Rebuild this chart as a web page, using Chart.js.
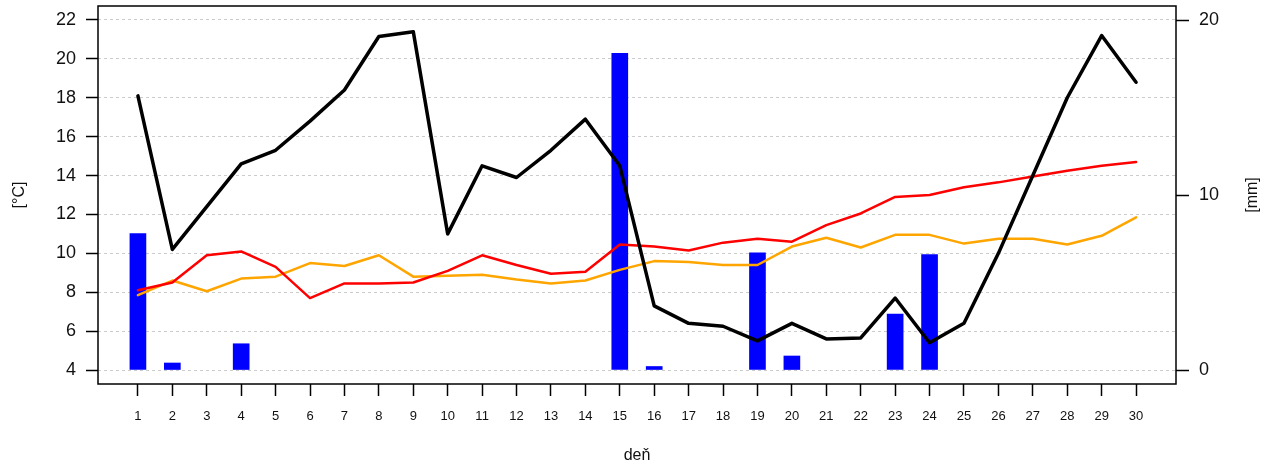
<!DOCTYPE html>
<html>
<head>
<meta charset="utf-8">
<script src="https://cdn.jsdelivr.net/npm/chart.js@4.4.1/dist/chart.umd.min.js"></script>
<style>
  html, body { margin: 0; padding: 0; background: #fff; }
  #wrap { width: 1273px; height: 469px; }
</style>
</head>
<body>
<div id="wrap"><canvas id="meteoChart" width="1273" height="469"></canvas></div>
<script>
// daily values for the month
const days = Array.from({ length: 30 }, (_, i) => i + 1);
const tempBlack = [18.1, 10.2, 12.4, 14.6, 15.3, 16.8, 18.4, 21.15, 21.4, 11.0,
  14.5, 13.9, 15.3, 16.9, 14.5, 7.3, 6.4, 6.25, 5.5, 6.4,
  5.6, 5.65, 7.7, 5.4, 6.4, 10.0, 14.0, 18.0, 21.2, 18.8];
const tempRed = [8.1, 8.5, 9.9, 10.1, 9.3, 7.7, 8.45, 8.45, 8.5, 9.1,
  9.9, 9.4, 8.95, 9.05, 10.45, 10.35, 10.15, 10.55, 10.75, 10.6,
  11.45, 12.05, 12.9, 13.0, 13.4, 13.65, 13.95, 14.25, 14.5, 14.7];
const tempOrange = [7.85, 8.6, 8.05, 8.7, 8.8, 9.5, 9.35, 9.9, 8.8, 8.85,
  8.9, 8.65, 8.45, 8.6, 9.15, 9.6, 9.55, 9.4, 9.4, 10.35,
  10.8, 10.3, 10.95, 10.95, 10.5, 10.75, 10.75, 10.45, 10.9, 11.85];
const rainMm = [7.8, 0.4, 0, 1.5, 0, 0, 0, 0, 0, 0,
  0, 0, 0, 0, 18.1, 0.2, 0, 0, 6.7, 0.8,
  0, 0, 3.2, 6.6, 0, 0, 0, 0, 0, 0];
const tempTicks = [4, 6, 8, 10, 12, 14, 16, 18, 20, 22];
const rainTicks = [0, 10, 20];

const FONT = "'Liberation Sans', Arial, sans-serif";
const toPoints = (vals) => days.map((d, i) => ({ x: d, y: vals[i] }));

// R-style frame plus the right-hand label (reads bottom to top)
const framePlugin = {
  id: 'frame',
  afterDraw(chart) {
    const { ctx, chartArea: a } = chart;
    ctx.save();
    ctx.strokeStyle = '#000';
    ctx.lineWidth = 1.5;
    ctx.strokeRect(a.left, a.top, a.right - a.left, a.bottom - a.top);
    ctx.translate(1253, 195);
    ctx.rotate(-Math.PI / 2);
    ctx.fillStyle = '#111';
    ctx.font = '16px ' + FONT;
    ctx.textAlign = 'center';
    ctx.textBaseline = 'middle';
    ctx.fillText('[mm]', 0, 0);
    ctx.restore();
  },
};

const noPad = (s) => {
  s.paddingTop = 0;
  s.paddingBottom = 0;
  s.paddingLeft = 0;
  s.paddingRight = 0;
};

const lineStyle = {
  type: 'line',
  pointRadius: 0,
  tension: 0,
  borderJoinStyle: 'round',
  borderCapStyle: 'round',
  yAxisID: 'y',
};

new Chart(document.getElementById('meteoChart'), {
  data: {
    datasets: [
      { ...lineStyle, data: toPoints(tempBlack), borderColor: '#000000', borderWidth: 3.5, order: 1 },
      { ...lineStyle, data: toPoints(tempRed), borderColor: '#ff0000', borderWidth: 2.5, order: 2 },
      { ...lineStyle, data: toPoints(tempOrange), borderColor: '#ffa500', borderWidth: 2.5, order: 3 },
      {
        type: 'bar',
        // days without rain get no bar at all
        data: toPoints(rainMm).filter((p) => p.y > 0),
        backgroundColor: '#0000ff',
        borderWidth: 0,
        barThickness: 16,
        yAxisID: 'y1',
        order: 10,
      },
    ],
  },
  options: {
    responsive: false,
    animation: false,
    layout: { padding: { top: 6, left: 0, right: 0, bottom: 0 } },
    plugins: { legend: { display: false }, tooltip: { enabled: false } },
    scales: {
      x: {
        type: 'linear',
        offset: false,
        min: -0.16,
        max: 31.16,
        afterBuildTicks: (s) => { s.ticks = days.map((v) => ({ value: v })); },
        afterFit: (s) => { noPad(s); s.height = 85; },
        ticks: {
          autoSkip: false,
          maxRotation: 0,
          padding: 13,
          color: '#111',
          font: { family: FONT, size: 13 },
          callback: (v) => v,
        },
        grid: { offset: false, drawOnChartArea: false, drawTicks: true, tickLength: 12, tickColor: '#000', tickWidth: 1.5 },
        border: { display: false },
        title: { display: true, text: 'deň', color: '#111', font: { family: FONT, size: 16 }, padding: { top: 0, bottom: 4 } },
      },
      y: {
        position: 'left',
        min: 3.28,
        max: 22.72,
        afterBuildTicks: (s) => { s.ticks = tempTicks.map((v) => ({ value: v })); },
        afterFit: (s) => { noPad(s); s.width = 98; },
        ticks: { padding: 10, color: '#111', font: { family: FONT, size: 18 } },
        grid: {
          color: '#cccccc',
          lineWidth: 1,
          tickLength: 12,
          tickColor: '#000',
          tickWidth: 1.5,
          tickBorderDash: [],
        },
        border: { display: false, dash: [3, 3] },
        title: { display: true, text: '[°C]', color: '#111', font: { family: FONT, size: 16 }, padding: { top: 10, bottom: 0 } },
      },
      y1: {
        position: 'right',
        min: -0.8,
        max: 20.8,
        afterBuildTicks: (s) => { s.ticks = rainTicks.map((v) => ({ value: v })); },
        afterFit: (s) => { noPad(s); s.width = 97; },
        ticks: { padding: 10, color: '#111', font: { family: FONT, size: 18 } },
        grid: { drawOnChartArea: false, tickLength: 13, tickColor: '#000', tickWidth: 1.5 },
        border: { display: false },
      },
    },
  },
  plugins: [framePlugin],
});
</script>
</body>
</html>
